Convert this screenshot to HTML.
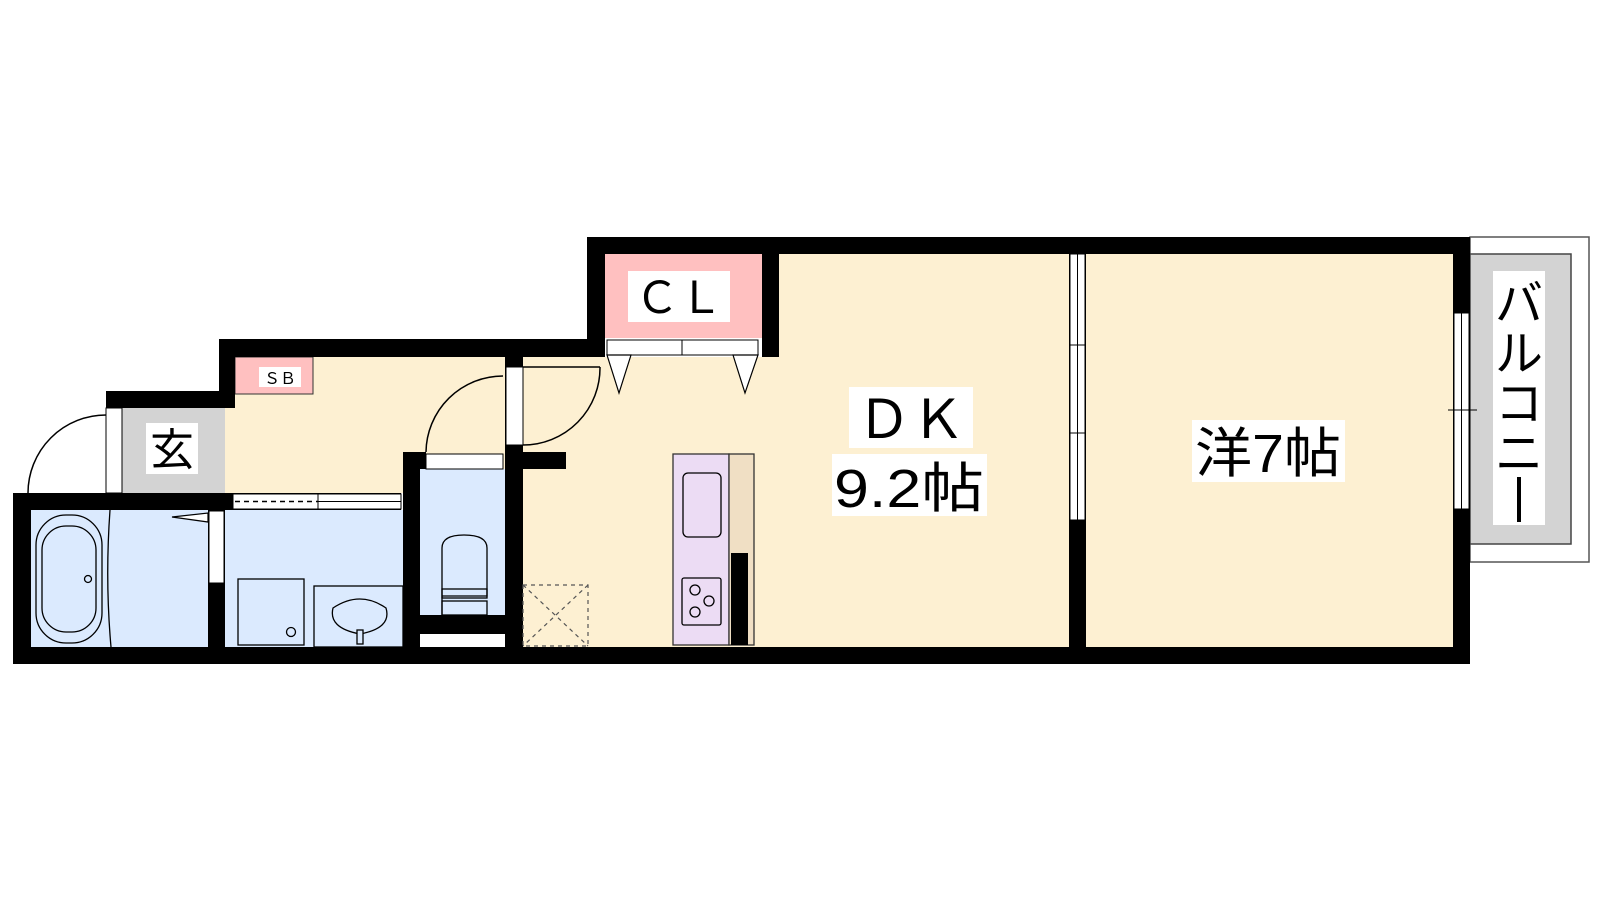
<!DOCTYPE html>
<html><head><meta charset="utf-8"><style>
html,body{margin:0;padding:0;background:#fff;width:1600px;height:900px;overflow:hidden}
svg{display:block}
text{font-family:"Liberation Sans","Noto Sans CJK JP",sans-serif;fill:#000}
</style></head><body>
<svg width="1600" height="900" viewBox="0 0 1600 900" xmlns="http://www.w3.org/2000/svg">
<!-- balcony -->
<rect x="1470" y="237" width="119" height="325" fill="#fff" stroke="#555" stroke-width="1.5"/>
<rect x="1470" y="254" width="101" height="290" fill="#d3d3d3" stroke="#444" stroke-width="1.5"/>
<!-- floors -->
<rect x="225" y="357" width="280" height="136" fill="#fdf0d2"/>
<rect x="420" y="357" width="85" height="100" fill="#fdf0d2"/>
<rect x="523" y="357" width="546" height="290" fill="#fdf0d2"/>
<rect x="762" y="254" width="307" height="103" fill="#fdf0d2"/>
<rect x="1086" y="254" width="367" height="393" fill="#fdf0d2"/>
<rect x="122" y="408" width="103" height="85" fill="#d3d3d3"/>
<rect x="31" y="510" width="177" height="137" fill="#dbeafe"/>
<rect x="225" y="510" width="178" height="137" fill="#dbeafe"/>
<rect x="420" y="469" width="85" height="146" fill="#dbeafe"/>
<rect x="605" y="254" width="157" height="84" fill="#ffc0c0"/>
<rect x="235" y="357" width="78" height="37" fill="#ffc0c0" stroke="#333" stroke-width="1"/>
<!-- walls -->
<g fill="#000">
<rect x="587" y="237" width="883" height="17"/>
<rect x="1453" y="237" width="17" height="427"/>
<rect x="13" y="647" width="1457" height="17"/>
<rect x="587" y="237" width="18" height="120"/>
<rect x="762" y="237" width="17" height="120"/>
<rect x="219" y="339" width="386" height="18"/>
<rect x="219" y="339" width="16" height="69"/>
<rect x="106" y="391" width="129" height="17"/>
<rect x="13" y="493" width="220" height="17"/>
<rect x="233" y="493" width="168" height="17"/>
<rect x="13" y="493" width="18" height="171"/>
<rect x="208" y="510" width="17" height="154"/>
<rect x="403" y="452" width="17" height="212"/>
<rect x="403" y="452" width="23" height="17"/>
<rect x="420" y="615" width="85" height="19"/>
<rect x="505" y="357" width="18" height="307"/>
<rect x="523" y="452" width="43" height="17"/>
<rect x="1069" y="254" width="17" height="393"/>
</g>
<!-- openings white -->
<g fill="#fff" stroke="#000" stroke-width="1">
<rect x="106" y="408" width="16" height="85"/>
<rect x="233" y="494" width="85" height="15"/>
<rect x="318" y="494" width="83" height="15"/>
<rect x="209" y="511" width="15" height="72"/>
<rect x="426" y="454" width="77" height="15"/>
<rect x="420" y="634" width="85" height="13" stroke="none"/>
<rect x="506" y="367" width="17" height="78"/>
<rect x="607" y="340" width="75" height="15"/>
<rect x="682" y="340" width="76" height="15"/>
<rect x="1070" y="254" width="15" height="266"/>
<rect x="1454" y="313" width="15" height="196"/>
</g>
<line x1="235" y1="501.5" x2="318" y2="501.5" stroke="#000" stroke-width="1.5" stroke-dasharray="5,4"/>
<line x1="318" y1="501.5" x2="401" y2="501.5" stroke="#000" stroke-width="1"/>
<g stroke="#000" stroke-width="1">
<line x1="1077.5" y1="254" x2="1077.5" y2="520"/>
<line x1="1070" y1="345" x2="1085" y2="345"/>
<line x1="1070" y1="433" x2="1085" y2="433"/>
<line x1="1461.5" y1="313" x2="1461.5" y2="509"/>
<line x1="1448" y1="410" x2="1477" y2="410"/>
</g>
<!-- doors -->
<g fill="none" stroke="#000" stroke-width="1.5">
<path d="M106 415 A78 78 0 0 0 28 493"/>
<path d="M503 376 A77 77 0 0 0 426 452"/>
<path d="M600 367 A77 77 0 0 1 523 445"/>
<line x1="523" y1="367" x2="600" y2="367"/>
</g>
<g fill="#fff" stroke="#000" stroke-width="1.2">
<polygon points="607,355 631,355 619,393"/>
<polygon points="733,355 758,355 745,393"/>
<polygon points="208,513 208,522 172,517"/>
</g>
<!-- bath -->
<g fill="none" stroke="#000" stroke-width="1.3">
<rect x="36" y="515" width="66" height="128" rx="30"/>
<rect x="42" y="526" width="54" height="106" rx="24"/>
<circle cx="88" cy="579" r="3.5"/>
<path d="M110 510 Q105 580 111 647"/>
<rect x="238" y="579" width="66" height="66"/>
<circle cx="291" cy="632" r="4.5"/>
<rect x="314" y="586" width="89" height="61"/>
<path d="M333 608 Q360 590 386 608 Q392 628 360 634 Q328 628 333 608Z"/>
<rect x="357" y="630" width="6" height="14" fill="#dbeafe"/>
<path d="M442 615 L442 548 Q442 535 464 535 Q487 535 487 548 L487 596 L442 596" />
<rect x="442" y="589" width="45" height="9"/>
<rect x="442" y="601" width="45" height="14"/>
</g>
<!-- dashed box -->
<g fill="none" stroke="#555" stroke-width="1.2" stroke-dasharray="4,4">
<rect x="523" y="585" width="65" height="61"/>
<line x1="523" y1="585" x2="588" y2="646"/>
<line x1="588" y1="585" x2="523" y2="646"/>
</g>
<!-- kitchen -->
<rect x="673" y="454" width="56" height="191" fill="#ecdcf4" stroke="#333" stroke-width="1.3"/>
<rect x="729" y="454" width="25" height="191" fill="#f0dfc4" stroke="#333" stroke-width="1.3"/>
<rect x="731" y="553" width="17" height="92" fill="#000"/>
<g fill="none" stroke="#000" stroke-width="1.3">
<rect x="683" y="473" width="38" height="64" rx="5"/>
<rect x="682" y="578" width="39" height="47" rx="2"/>
<circle cx="695" cy="590" r="5"/><circle cx="709" cy="601" r="5"/><circle cx="695" cy="612" r="5"/>
</g>
<!-- labels -->
<rect x="146" y="423" width="52" height="51" fill="#fff"/>
<text x="172" y="465" font-size="44" text-anchor="middle">玄</text>
<rect x="259" y="367" width="42" height="20" fill="#fff"/>
<text x="280" y="384" font-size="16" text-anchor="middle">ＳＢ</text>
<rect x="628" y="271" width="102" height="51" fill="#fff"/>
<text x="679" y="313" font-size="44" text-anchor="middle">ＣＬ</text>
<rect x="849" y="387" width="124" height="61" fill="#fff"/>
<text x="911" y="438" font-size="54" text-anchor="middle">ＤＫ</text>
<rect x="832" y="454" width="155" height="62" fill="#fff"/>
<text x="909" y="507" font-size="54" text-anchor="middle" textLength="150" lengthAdjust="spacingAndGlyphs">9.2帖</text>
<rect x="1192" y="420" width="153" height="62" fill="#fff"/>
<text x="1268" y="472" font-size="54" text-anchor="middle" textLength="146" lengthAdjust="spacingAndGlyphs">洋7帖</text>
<rect x="1493" y="271" width="52" height="254" fill="#fff"/>
<g font-size="48" text-anchor="middle">
<text x="1519" y="320">バ</text>
<text x="1519" y="370">ル</text>
<text x="1519" y="420">コ</text>
<text x="1519" y="470">ニ</text>
</g>
<rect x="1517" y="477" width="4" height="45" fill="#000"/>
</svg>
</body></html>
